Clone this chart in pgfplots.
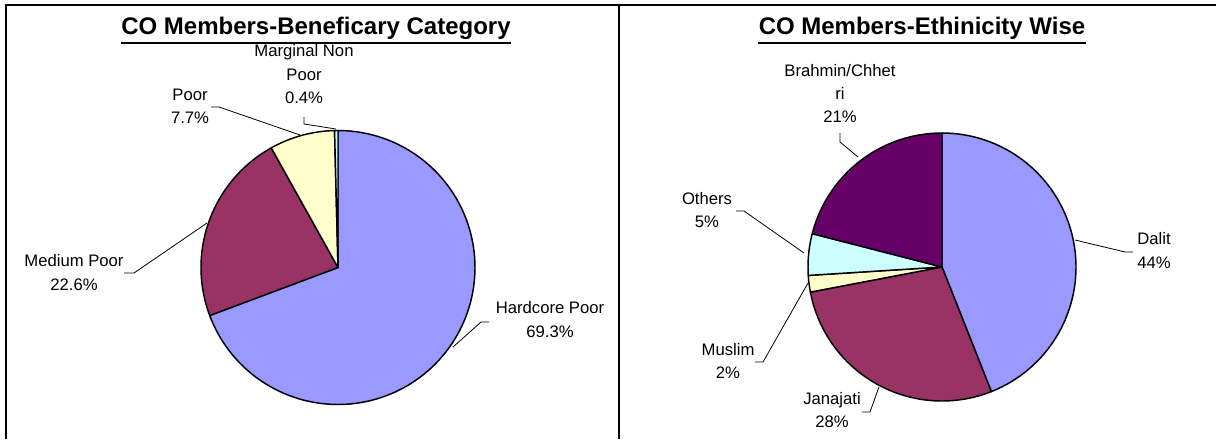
\documentclass[border=0pt]{standalone}
\usepackage{pgfplots}
\pgfplotsset{compat=1.18}
\usepackage{fontspec}
\setmainfont{Liberation Sans}
\definecolor{cBlue}{HTML}{9999FF}
\definecolor{cPlum}{HTML}{993366}
\definecolor{cIvory}{HTML}{FFFFCC}
\definecolor{cCyan}{HTML}{CCFFFF}
\definecolor{cPurple}{HTML}{660066}
% #1 cx, #2 cy, #3 r, #4 cumulative share before slice (%), #5 share (%), #6 colour
\newcommand{\pieslice}[6]{%
  \addplot[draw=black, line width=1.1pt, line join=round, fill=#6, samples=120,
    domain=90-3.6*(#4+#5):90-3.6*(#4)]
    ({#1+#3*cos(x)},{#2-#3*sin(x)}) -- (axis cs:#1,#2) -- cycle;
}
\begin{document}
\begin{tikzpicture}
\begin{axis}[
  at={(0,0)}, anchor=south west,
  scale only axis, width=912pt, height=329.25pt,
  xmin=0, xmax=1216, ymin=0, ymax=439, y dir=reverse,
  axis lines=none, clip=false,
]
% frames
\draw[black, line width=1.2pt] (axis cs:6,439) -- (axis cs:6,5) -- (axis cs:1216,5);
\draw[black, line width=1.2pt] (axis cs:619,5) -- (axis cs:619,439);

% ---- left pie: CO Members-Beneficary Category ----
\pieslice{338}{267.5}{137}{0}{69.3}{cBlue}     % Hardcore Poor
\pieslice{338}{267.5}{137}{69.3}{22.6}{cPlum}  % Medium Poor
\pieslice{338}{267.5}{137}{91.9}{7.7}{cIvory}  % Poor
\pieslice{338}{267.5}{137}{99.6}{0.4}{cCyan}   % Marginal Non Poor

% ---- right pie: CO Members-Ethinicity Wise ----
\pieslice{942}{267}{134}{0}{44}{cBlue}      % Dalit
\pieslice{942}{267}{134}{44}{28}{cPlum}     % Janajati
\pieslice{942}{267}{134}{72}{2}{cIvory}     % Muslim
\pieslice{942}{267}{134}{74}{5}{cCyan}      % Others
\pieslice{942}{267}{134}{79}{21}{cPurple}   % Brahmin/Chhetri

% titles
\node[font=\bfseries\fontsize{18}{21}\selectfont, inner sep=0pt, anchor=base] (t1) at (axis cs:316,34) {CO Members-Beneficary Category};
\draw[line width=1.7pt] ([yshift=-6.5pt]t1.base west) -- ([yshift=-6.5pt]t1.base east);
\node[font=\bfseries\fontsize{18}{21}\selectfont, inner sep=0pt, anchor=base] (t2) at (axis cs:922,34) {CO Members-Ethinicity Wise};
\draw[line width=1.7pt] ([yshift=-6.5pt]t2.base west) -- ([yshift=-6.5pt]t2.base east);

% labels left
\tikzset{lab/.style={align=center, inner sep=0pt, font=\fontsize{12.5}{17.6}\selectfont}}
\node[lab] at (axis cs:304,74.5) {Marginal Non\\Poor\\0.4\%};
\node[lab] at (axis cs:190,106.5) {Poor\\7.7\%};
\node[lab] at (axis cs:74,272.5) {Medium Poor\\22.6\%};
\node[lab] at (axis cs:550,319.5) {Hardcore Poor\\69.3\%};
\draw[line width=0.6pt] (axis cs:304,117) -- (axis cs:304,124) -- (axis cs:336,129);
\draw[line width=0.6pt] (axis cs:211,107) -- (axis cs:219,107) -- (axis cs:300,135);
\draw[line width=0.6pt] (axis cs:124,273) -- (axis cs:134,273) -- (axis cs:207,223);
\draw[line width=0.6pt] (axis cs:489,322) -- (axis cs:481,322) -- (axis cs:453,347);

% labels right
\node[lab] at (axis cs:840,93.5) {Brahmin/Chhet\\ri\\21\%};
\node[lab] at (axis cs:707,210) {Others\\5\%};
\node[lab] at (axis cs:1154,250.5) {Dalit\\44\%};
\node[lab] at (axis cs:728,361) {Muslim\\2\%};
\node[lab] at (axis cs:832,410) {Janajati\\28\%};
\draw[line width=0.6pt] (axis cs:840,133) -- (axis cs:840,142) -- (axis cs:858,157);
\draw[line width=0.6pt] (axis cs:736,211) -- (axis cs:744,211) -- (axis cs:804,253);
\draw[line width=0.6pt] (axis cs:1133,252) -- (axis cs:1125,252) -- (axis cs:1075,240);
\draw[line width=0.6pt] (axis cs:755,362) -- (axis cs:763,362) -- (axis cs:808,283);
\draw[line width=0.6pt] (axis cs:862,412) -- (axis cs:870,412) -- (axis cs:879,387);
\end{axis}
\pgfresetboundingbox
\path[use as bounding box] (0,0) rectangle (912pt,329.25pt);
\end{tikzpicture}
\end{document}
